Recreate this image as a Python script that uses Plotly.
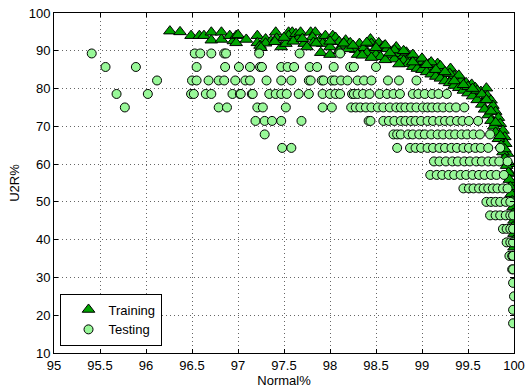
import plotly.graph_objects as go

# ---------------- data ----------------
# Training (triangles): Normal% and U2R%
train_x = [96.26, 96.37, 96.49, 96.58, 96.63, 96.71, 96.71, 96.82, 96.82, 96.91, 96.95, 96.98, 97.00, 96.98,
           97.09, 97.21, 97.21, 97.24, 97.30, 97.36, 97.41, 97.42, 97.47, 97.52, 97.55, 97.59, 97.55, 97.63,
           97.65, 97.68, 97.72, 97.79, 97.84, 97.81, 97.82, 97.90, 97.92, 97.95, 98.00, 98.03, 98.06, 98.10,
           98.13, 98.17, 98.22, 98.26, 98.28, 98.32, 98.37, 98.44, 98.45, 98.48, 98.53, 98.58, 98.62, 98.68,
           98.72, 98.75, 98.80, 98.83, 98.86, 98.91, 98.96, 99.01, 99.03, 99.08, 99.11, 99.17, 99.20, 99.26,
           99.31, 99.35, 99.39, 99.43, 99.48, 99.54, 99.58, 99.64, 99.70, 99.71, 99.75, 99.77, 99.80, 99.83,
           99.85, 99.88, 99.90, 99.91, 99.93, 99.95, 99.96, 99.98, 99.99, 99.99, 100.0, 100.0, 100.0,
           98.30, 98.40, 98.50, 98.55, 98.65, 98.70, 98.80, 98.85, 98.90, 98.95, 99.00, 99.05, 99.10, 99.15,
           99.20, 99.25, 99.30, 99.35, 99.40, 99.45, 99.50, 99.55, 99.60, 99.65, 99.68, 99.72, 99.75, 99.78,
           99.80, 99.83, 99.86, 99.88, 99.90, 99.92, 99.94, 99.95, 99.96, 99.97, 99.98, 99.99, 99.99, 100.0,
           98.60, 98.70, 98.90, 99.00, 99.10, 99.20, 99.30, 99.40, 99.50, 99.60, 99.65, 99.70, 99.75, 99.80,
           99.85, 99.90,
           98.20, 98.35, 98.45, 98.60, 98.75, 98.90, 99.05, 99.15, 99.25, 99.35, 99.45, 99.55, 98.00, 98.10,
           97.90, 98.00, 97.75, 97.60, 97.50, 97.30, 97.25, 97.40, 97.70, 97.85, 98.15, 98.25, 98.40, 98.50,
           98.80, 98.65]
train_y = [95.2, 95.0, 94.0, 94.0, 94.0, 94.9, 92.8, 94.9, 93.0, 94.0, 92.6, 94.0, 94.2, 92.1,
           93.0, 94.0, 92.1, 91.4, 93.1, 92.6, 94.9, 93.3, 91.0, 91.9, 94.9, 94.9, 94.0, 94.5,
           93.1, 94.9, 91.9, 94.9, 94.9, 93.6, 92.2, 93.1, 91.9, 94.0, 91.0, 94.0, 93.5, 92.4,
           91.4, 92.8, 92.1, 91.0, 90.3, 91.9, 90.8, 93.1, 91.9, 90.1, 92.1, 91.2, 90.5, 89.9,
           91.0, 89.2, 88.7, 89.6, 88.2, 87.6, 86.8, 87.1, 86.1, 86.6, 85.3, 86.6, 84.6, 83.9,
           85.3, 83.4, 82.9, 82.2, 81.5, 81.1, 80.2, 79.2, 80.1, 78.1, 76.9, 75.5, 73.9, 72.3,
           70.7, 68.9, 67.2, 65.4, 62.8, 60.1, 57.5, 54.8, 52.2, 48.6, 45.1, 41.6, 38.0,
           89.0, 89.4, 89.0, 88.4, 88.8, 87.8, 87.4, 86.6, 85.8, 85.3, 85.0, 84.4, 83.8, 83.2,
           82.7, 82.0, 81.5, 80.8, 80.2, 79.5, 78.8, 78.0, 77.0, 75.8, 74.5, 73.0, 71.5, 70.0,
           68.4, 66.7, 65.0, 63.2, 61.5, 59.6, 57.8, 55.9, 54.0, 52.1, 50.3, 46.9, 43.4, 39.8,
           91.5, 90.2, 89.0, 88.0, 87.0, 86.0, 84.0, 83.5, 80.5, 79.5, 78.5, 77.0, 74.0, 71.0,
           67.5, 64.0,
           90.5, 88.8, 88.2, 87.6, 86.5, 87.0, 86.3, 85.0, 84.4, 82.0, 81.0, 80.0, 92.5, 90.0,
           89.5, 89.0, 91.0, 92.5, 93.5, 92.0, 90.8, 92.4, 93.2, 92.0, 92.0, 91.4, 92.2, 90.8,
           90.0, 89.4]

# Testing (circles): U2R% levels and the Normal% values found at each level
test_levels = [89.29, 85.71, 82.14, 78.57, 75.00, 71.43, 67.86, 64.29, 60.71, 57.14, 53.57,
               50.00, 46.43, 42.86, 39.29, 35.71, 32.14, 28.57, 25.00, 21.43, 17.86]
test_x_89 = [95.41, 96.53, 96.59, 96.71, 96.85, 96.87, 97.23, 97.67, 98.11]
test_x_86 = [95.56, 95.89, 96.55, 96.86, 97.01, 97.13, 97.24, 97.26, 97.47, 97.54, 97.61, 97.78, 97.86,
             98.04, 98.22, 98.26, 98.50]
test_x_82 = [96.12, 96.50, 96.55, 96.68, 96.79, 96.85, 96.97, 97.08, 97.13, 97.31, 97.47, 97.58, 97.77,
             97.79, 97.91, 97.93, 98.02, 98.05, 98.12, 98.19, 98.30, 98.37, 98.45, 98.63, 98.75, 98.94]
test_x_79 = [95.68, 96.02, 96.49, 96.52, 96.65, 96.71, 96.94, 97.02, 97.03, 97.15, 97.16, 97.34, 97.41,
             97.47, 97.53, 97.66, 97.77, 97.92, 98.00, 98.06, 98.11, 98.24, 98.26, 98.30, 98.36, 98.43,
             98.54, 98.62, 98.69, 98.76, 98.90, 98.96, 99.03, 99.11, 99.18, 99.27]
test_x_75 = [95.77, 96.79, 96.88, 97.21, 97.27, 97.52, 97.92, 98.02, 98.23, 98.28, 98.33, 98.39, 98.45,
             98.52, 98.58, 98.65, 98.72, 98.77, 98.82, 98.88, 98.94, 99.01, 99.06, 99.11, 99.17, 99.23,
             99.30, 99.37, 99.46]
test_x_71 = [97.19, 97.29, 97.37, 97.47, 97.69, 98.42, 98.44, 98.58, 98.64, 98.70, 98.77, 98.82, 98.88,
             98.93, 98.99, 99.06, 99.12, 99.19, 99.25, 99.31, 99.38, 99.44, 99.51, 99.61]
test_x_68 = [97.29, 98.69, 98.73, 98.77, 98.85, 98.90, 98.97, 99.03, 99.10, 99.17, 99.23, 99.30, 99.36,
             99.43, 99.49, 99.56, 99.63, 99.74]
test_x_64 = [97.48, 97.58, 98.73, 98.87, 98.93, 98.99, 99.06, 99.12, 99.19, 99.25, 99.32, 99.38, 99.45,
             99.51, 99.58, 99.64, 99.72, 99.85]
test_x_61 = [99.13, 99.19, 99.26, 99.33, 99.39, 99.46, 99.52, 99.59, 99.65, 99.72, 99.78, 99.84, 99.93]
test_x_57 = [99.09, 99.16, 99.22, 99.29, 99.35, 99.42, 99.48, 99.55, 99.62, 99.68, 99.75, 99.81, 99.89]
test_x_54 = [99.45, 99.51, 99.56, 99.62, 99.67, 99.72, 99.77, 99.82, 99.88, 99.93]
test_x_50 = [99.70, 99.75, 99.80, 99.85, 99.91, 99.96]
test_x_46 = [99.74, 99.80, 99.85, 99.91, 99.96, 99.99]
test_x_43 = [99.88, 99.92, 99.96, 99.99]
test_x_39 = [99.92, 99.96, 99.99]
test_x_36 = [99.95, 99.98, 99.99]
test_x_32 = [99.98, 99.99]
test_x_29 = [99.99]
test_x_25 = [100.0]
test_x_21 = [99.99]
test_x_18 = [99.99]

test_rows = [test_x_89, test_x_86, test_x_82, test_x_79, test_x_75, test_x_71, test_x_68, test_x_64,
             test_x_61, test_x_57, test_x_54, test_x_50, test_x_46, test_x_43, test_x_39, test_x_36,
             test_x_32, test_x_29, test_x_25, test_x_21, test_x_18]

test_x, test_y = [], []
for lvl, row in zip(test_levels, test_rows):
    for v in row:
        test_x.append(v)
        test_y.append(lvl)

x_ticks = [95, 95.5, 96, 96.5, 97, 97.5, 98, 98.5, 99, 99.5, 100]
y_ticks = [10, 20, 30, 40, 50, 60, 70, 80, 90, 100]

# ---------------- figure ----------------
FONT = "Liberation Sans, Arial, Helvetica, sans-serif"

fig = go.Figure()
fig.add_trace(go.Scatter(
    x=train_x, y=train_y, mode="markers", name="Training",
    marker=dict(symbol="triangle-up", size=11, color="#00a400",
                line=dict(color="black", width=1)),
))
fig.add_trace(go.Scatter(
    x=test_x, y=test_y, mode="markers", name="Testing",
    marker=dict(symbol="circle", size=9, color="#98f898",
                line=dict(color="black", width=1)),
))

axis_common = dict(
    showline=True, linecolor="black", linewidth=1, mirror="ticks",
    ticks="inside", ticklen=4, tickcolor="black",
    showgrid=True, gridcolor="#666666", gridwidth=1, griddash="1px,3px",
    zeroline=False, automargin=False,
    tickfont=dict(family=FONT, size=13, color="black"),
)

fig.update_layout(
    width=526, height=389,
    margin=dict(l=54, r=12, t=13, b=36),
    paper_bgcolor="white", plot_bgcolor="white",
    font=dict(family=FONT, size=13, color="black"),
    showlegend=True,
    legend=dict(x=0.012, y=0.022, xanchor="left", yanchor="bottom",
                bgcolor="white", bordercolor="black", borderwidth=1,
                font=dict(family=FONT, size=13, color="black"),
                indentation=8, tracegroupgap=0),
    xaxis=dict(range=[95, 100], tickvals=x_ticks,
               ticktext=[f"{t:g}" for t in x_ticks],
               title=dict(text="Normal%", standoff=2,
                          font=dict(family=FONT, size=13)),
               **axis_common),
    yaxis=dict(range=[10, 100], tickvals=y_ticks,
               title=dict(text="U2R%", standoff=6,
                          font=dict(family=FONT, size=13)),
               **axis_common),
)

fig.write_html("out.html")
